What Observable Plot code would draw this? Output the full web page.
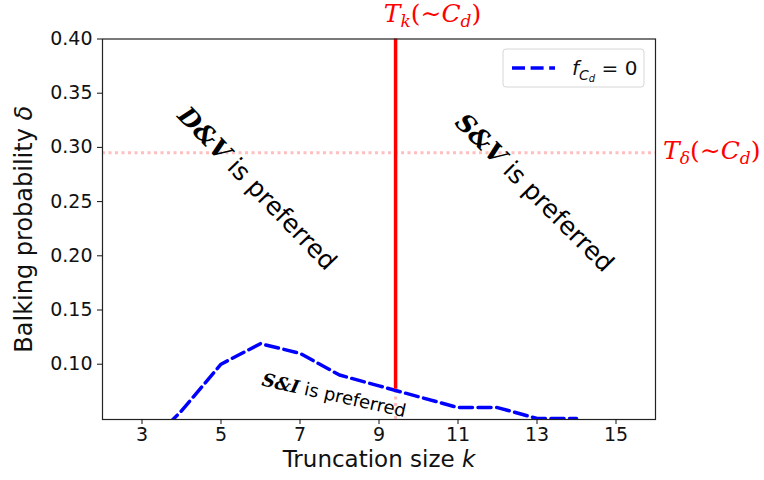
<!DOCTYPE html>
<html><head><meta charset="utf-8">
<script src="https://cdn.jsdelivr.net/npm/d3@7"></script>
<script src="https://cdn.jsdelivr.net/npm/@observablehq/plot@0.6"></script>
<style>body{margin:0;background:#fff;}</style>
</head><body><div id="chart"></div>
<script>
// ---- data ----
const kValues     = [3, 4, 5, 6, 7, 8, 9, 10, 11, 12, 13, 14];
const deltaValues = [0.020, 0.057, 0.100, 0.119, 0.110, 0.090, 0.080, 0.070, 0.060, 0.060, 0.050, 0.050];
const xTicks = [3, 5, 7, 9, 11, 13, 15];
const yTicks = [0.10, 0.15, 0.20, 0.25, 0.30, 0.35, 0.40];
const xDomain = [2, 16];
const yDomain = [0.049, 0.40];
const thresholdK = 9.42;
const thresholdDelta = 0.295;
const curveAtThresholdK = 0.077;
const regionHeads = ["D&V", "S&V", "S&I"];
const regionTail = " is preferred";
const regionX = [5.91, 12.93, 7.86];
const regionY = [0.262, 0.258, 0.071];
const regionRotate = [46, 45, 12.5];
const regionSize = [25, 25, 18];
const legendLabel = "f_{C_d} = 0";

const curve = kValues.map((k, i) => ({k, d: deltaValues[i]}));
const regions = regionHeads.map((h, i) => ({head: h, x: regionX[i], y: regionY[i], rotate: regionRotate[i], size: regionSize[i]}));

const RED = "#ff0000", BLUE = "#0000ff";

const plot = Plot.plot({
  width: 764, height: 480,
  marginLeft: 102, marginRight: 109, marginTop: 38.5, marginBottom: 61,
  x: {domain: xDomain},
  y: {domain: yDomain},
  style: {fontFamily: "DejaVu Sans", fontSize: "19px", color: "#111", background: "#fff", overflow: "visible"},
  marks: [
    Plot.ruleY([thresholdDelta], {stroke: RED, strokeOpacity: 0.25, strokeWidth: 3, strokeDasharray: "3,3.5"}),
    Plot.ruleX([thresholdK], {y1: yDomain[0], y2: curveAtThresholdK, stroke: RED, strokeOpacity: 0.25, strokeWidth: 3, strokeDasharray: "3,3.5"}),
    Plot.line(curve, {x: "k", y: "d", stroke: BLUE, strokeWidth: 3.5, strokeDasharray: "13,5.6", clip: true}),
    Plot.ruleX([thresholdK], {y1: curveAtThresholdK, y2: yDomain[1], stroke: RED, strokeWidth: 3.5}),
    Plot.frame({stroke: "#222", strokeWidth: 1.2}),
    Plot.axisX({ticks: xTicks, tickSize: 5, tickPadding: 3, fontSize: 19, label: null}),
    Plot.axisY({ticks: yTicks, tickSize: 5, tickPadding: 5, fontSize: 19, label: null, tickFormat: d3.format(".2f")}),
    Plot.text(["Truncation size k"], {frameAnchor: "bottom", dy: 47, fontSize: 23, textAnchor: "middle", ariaDescription: "xlabel"}),
    Plot.text(["Balking probability δ"], {frameAnchor: "left", dx: -78, rotate: -90, fontSize: 24, textAnchor: "middle", ariaDescription: "ylabel"}),
    Plot.text(regions, {x: "x", y: "y", text: d => d.head + regionTail, rotate: "rotate", fontSize: "size", textAnchor: "middle", lineAnchor: "middle", fill: "#000", ariaDescription: "region"}),
    Plot.text([thresholdK], {x: d => d - 0.3, y: yDomain[1] + 0.021, text: () => "Tk(~Cd)", textAnchor: "start", lineAnchor: "middle", fill: RED, clip: false, ariaDescription: "tk"}),
    Plot.text([thresholdDelta], {x: xDomain[1] + 0.19, y: d => d, text: () => "Tδ(~Cd)", textAnchor: "start", lineAnchor: "middle", fill: RED, clip: false, ariaDescription: "td"})
  ]
});
document.getElementById("chart").appendChild(plot);

// ---- rich text post-processing ----
function rich(el, segs) {
  const t = d3.select(el);
  t.text(null);
  for (const s of segs) {
    const ts = t.append("tspan").text(s.t);
    if (s.family) ts.attr("font-family", s.family);
    if (s.italic) ts.attr("font-style", "italic");
    if (s.bold) ts.attr("font-weight", "bold");
    if (s.size) ts.attr("font-size", s.size);
    if (s.dy) ts.attr("dy", s.dy);
  }
}
const svg = d3.select(plot);
const SERIF = "DejaVu Serif";
svg.selectAll('g[aria-description="xlabel"] text').each(function() {
  rich(this, [{t: "Truncation size "}, {t: "k", italic: true}]);
});
svg.selectAll('g[aria-description="ylabel"] text').each(function() {
  rich(this, [{t: "Balking probability "}, {t: "δ", italic: true}]);
});
svg.selectAll('g[aria-description="region"] text').each(function(_, i) {
  const r = regions[i];
  rich(this, [{t: r.head, family: SERIF, italic: true, bold: true}, {t: regionTail}]);
});
function thresholdLabel(el, sub) {
  rich(el, [
    {t: "T", family: SERIF, italic: true, size: 25},
    {t: sub, family: SERIF, italic: true, size: 17, dy: 5},
    {t: "(∼", family: SERIF, size: 25, dy: -5},
    {t: "C", family: SERIF, italic: true, size: 25},
    {t: "d", family: SERIF, italic: true, size: 17, dy: 5},
    {t: ")", family: SERIF, size: 25, dy: -5}
  ]);
}
svg.selectAll('g[aria-description="tk"] text').each(function() { thresholdLabel(this, "k"); });
svg.selectAll('g[aria-description="td"] text').each(function() { thresholdLabel(this, "δ"); });

// ---- legend (inside the frame, upper right) ----
const lg = svg.append("g").attr("aria-label", "legend");
lg.append("rect").attr("x", 503).attr("y", 49).attr("width", 141).attr("height", 38)
  .attr("rx", 3).attr("fill", "#fff").attr("fill-opacity", 0.8).attr("stroke", "#d6d6d6").attr("stroke-width", 1);
lg.append("line").attr("x1", 512).attr("x2", 555).attr("y1", 68).attr("y2", 68)
  .attr("stroke", BLUE).attr("stroke-width", 3.5).attr("stroke-dasharray", "13,5.6");
const lt = lg.append("text").attr("x", 572).attr("y", 68).attr("dy", "0.35em").attr("text-anchor", "start")
  .attr("font-family", "DejaVu Sans").attr("font-size", 20).attr("fill", "#111").text(legendLabel);
rich(lt.node(), [
  {t: "f", italic: true},
  {t: "C", italic: true, size: 14, dy: 4.5},
  {t: "d", italic: true, size: 10, dy: 2.5},
  {t: " = 0", size: 20, dy: -7}
]);
</script>
</body></html>
